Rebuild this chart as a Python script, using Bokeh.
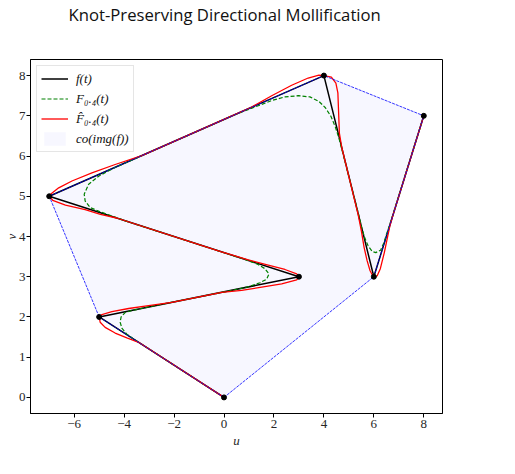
from bokeh.plotting import figure
from bokeh.models import Legend, LegendItem, FixedTicker, Range1d, Title
from bokeh.embed import file_html
from bokeh.resources import INLINE

# Knots of the piecewise-linear curve f(t)
knot_u = [0, -5, 3, -7, 4, 6, 8]
knot_v = [0, 2, 3, 5, 8, 3, 7]

# Mollified curve F_0.4(t)
moll_u = [0, -3.62, -3.89, -4.09, -4.16, -4.12, -3.96, -3.62, -3.02,
          0.31, 0.97, 1.44, 1.71, 1.80, 1.64, 1.31, 0.84, 0.18,
          -3.96, -4.49, -5.02, -5.36, -5.56, -5.60, -5.42, -5.02, -4.42,
          0.50, 1.37, 1.91, 2.44, 2.97, 3.44, 3.80, 4.06, 4.28, 4.46, 4.60,
          5.39, 5.53, 5.64, 5.77, 5.93, 6.08, 6.27, 6.40, 6.50, 6.62, 8]
moll_v = [0, 1.45, 1.57, 1.72, 1.87, 2.00, 2.11, 2.17, 2.25,
          2.66, 2.75, 2.85, 2.94, 3.07, 3.20, 3.32, 3.43, 3.56,
          4.39, 4.51, 4.63, 4.72, 4.88, 5.05, 5.30, 5.50, 5.70,
          7.045, 7.25, 7.38, 7.47, 7.50, 7.47, 7.36, 7.20, 6.99, 6.72, 6.45,
          4.55, 4.18, 3.96, 3.77, 3.63, 3.60, 3.66, 3.84, 4.04, 4.26, 7]

# Knot-preserving mollified curve F^_0.4(t)
kp_u = [0, -3.42, -3.89, -4.36, -4.76, -4.96, -5, -4.89, -4.49, -3.82, -3.02, -2.09,
        -0.09, 0.71, 1.51, 2.31, 2.91, 3, 2.91, 2.44, 1.77, 0.97, -0.10,
        -4.30, -4.95, -5.56, -6.35, -6.86, -7, -6.91, -6.62, -6.09, -5.29, -4.36, -3.29,
        0.0, 1.11, 1.91, 2.71, 3.37, 3.80, 4, 4.30, 4.48, 4.56, 4.58, 4.60, 4.62, 4.72,
        5.37, 5.50, 5.61, 5.73, 5.85, 5.95, 6, 6.13, 6.26, 6.42, 6.54, 6.65, 6.80, 8]
kp_v = [0, 1.37, 1.48, 1.60, 1.74, 1.87, 2, 2.06, 2.13, 2.21, 2.28, 2.36,
        2.61, 2.66, 2.74, 2.82, 2.92, 3, 3.07, 3.18, 3.29, 3.42, 3.62,
        4.46, 4.55, 4.67, 4.78, 4.90, 5, 5.07, 5.21, 5.38, 5.58, 5.79, 6.01,
        6.91, 7.22, 7.50, 7.76, 7.94, 8.01, 8, 7.96, 7.81, 7.57, 7.24, 6.91, 6.57, 6.20,
        4.55, 4.14, 3.73, 3.40, 3.15, 3.03, 3, 3.02, 3.20, 3.60, 3.96, 4.28, 4.60, 7]

# Convex hull of the image of f
hull_u = [0, 6, 8, 4, -7, -5]
hull_v = [0, 3, 7, 8, 5, 2]

x_ticks = [-6, -4, -2, 0, 2, 4, 6, 8]
y_ticks = [0, 1, 2, 3, 4, 5, 6, 7, 8]

p = figure(width=515, height=474,
           x_range=Range1d(-7.75, 8.75), y_range=Range1d(-0.4, 8.4),
           output_backend="svg", toolbar_location=None,
           min_border_left=29, min_border_right=73,
           min_border_top=58, min_border_bottom=61)

# gap between the plot frame and the heading
p.add_layout(Title(text=" ", text_font_size="2px", standoff=30), "above")
p.add_layout(Title(text="Knot-Preserving Directional Mollification",
                   text_font="Open Sans", text_font_style="normal",
                   text_font_size="16.7px", text_color="#111111",
                   align="left", offset=38, standoff=0), "above")

p.xgrid.visible = False
p.ygrid.visible = False
p.outline_line_color = "black"
p.outline_line_width = 1
p.background_fill_color = "white"

for ax, ticks in ((p.xaxis, x_ticks), (p.yaxis, y_ticks)):
    ax.ticker = FixedTicker(ticks=ticks)
    ax.major_label_overrides = {t: (str(t).replace("-", "\u2212")) for t in ticks}
    ax.minor_tick_line_color = None
    ax.major_tick_in = 0
    ax.major_tick_out = 4
    ax.axis_line_color = "black"
    ax.major_tick_line_color = "black"
    ax.major_label_text_font = "Liberation Serif"
    ax.major_label_text_font_size = "13px"
    ax.major_label_text_color = "#262626"
    ax.major_label_standoff = 2
    ax.axis_label_text_font = "Liberation Serif"
    ax.axis_label_text_font_style = "italic"
    ax.axis_label_text_font_size = "13px"
    ax.axis_label_text_color = "#262626"
    ax.axis_label_standoff = 2

p.xaxis.axis_label = "u"
p.yaxis.axis_label = "v"
p.yaxis.major_label_standoff = 1
p.yaxis.axis_label_standoff = -3

hull_r = p.patch(hull_u, hull_v, fill_color="blue", fill_alpha=0.03, line_color=None)
f_r = p.line(knot_u, knot_v, line_color="black", line_width=1.5)
moll_r = p.line(moll_u, moll_v, line_color="green", line_width=1.2, line_dash="4 2")
kp_r = p.line(kp_u, kp_v, line_color="red", line_width=1.3)
p.line(hull_u + hull_u[:1], hull_v + hull_v[:1], line_color="blue",
       line_width=0.8, line_dash="3 1")
p.scatter(knot_u, knot_v, size=5, color="black")

legend = Legend(items=[
    LegendItem(label="f(t)", renderers=[f_r]),
    LegendItem(label="F\u2080.\u2084(t)", renderers=[moll_r]),
    LegendItem(label="F\u0302\u2080.\u2084(t)", renderers=[kp_r]),
    LegendItem(label="co(img(f))", renderers=[hull_r]),
], location="top_left")
legend.label_text_font = "Liberation Serif"
legend.label_text_font_style = "italic"
legend.label_text_font_size = "13px"
legend.label_text_color = "#111111"
legend.border_line_color = "#cccccc"
legend.background_fill_alpha = 0.8
legend.margin = 6
legend.padding = 4
legend.spacing = 3
legend.glyph_width = 27
legend.glyph_height = 17
legend.label_height = 17
legend.label_standoff = 8
p.add_layout(legend)

open("out.html", "w").write(file_html(p, INLINE))
